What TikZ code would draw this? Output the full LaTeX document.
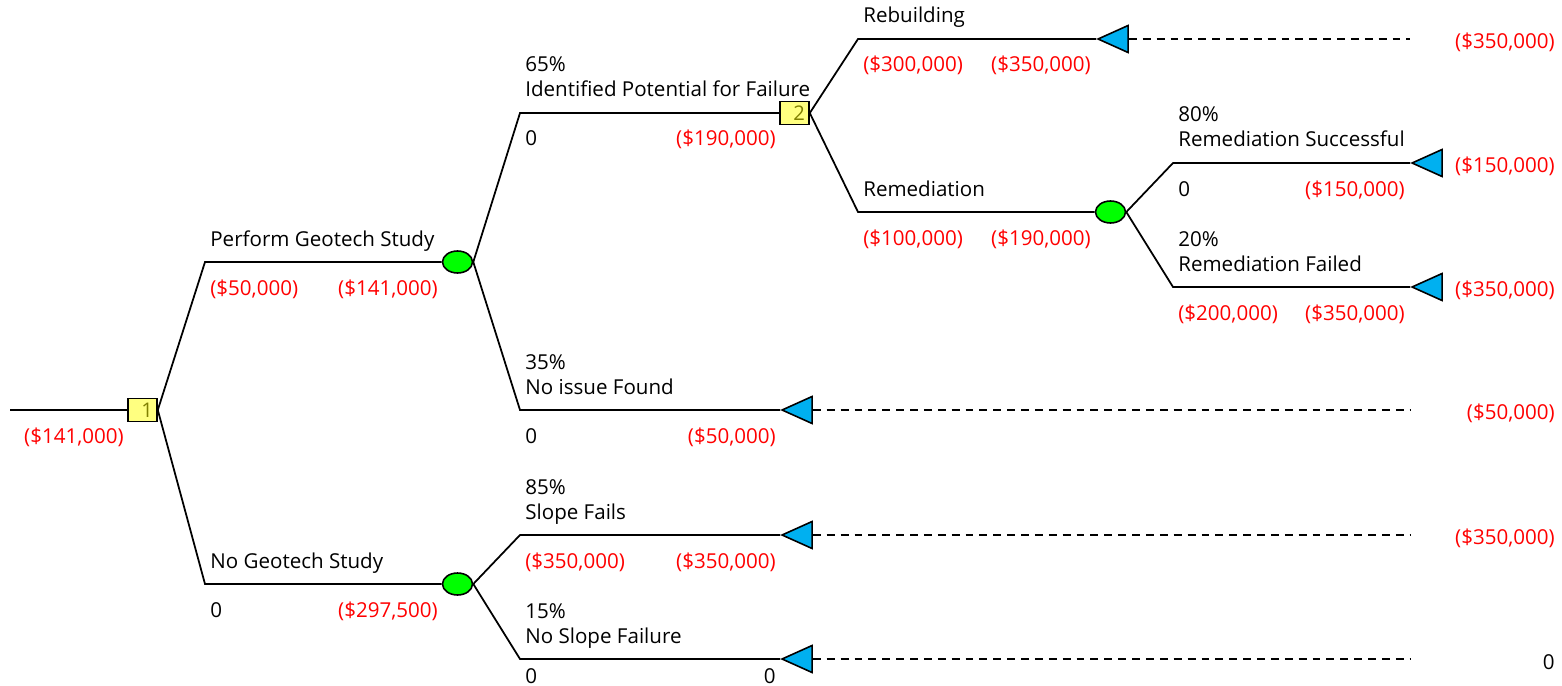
\documentclass[tikz,border=0pt]{standalone}
\usepackage{fontspec}
\setmainfont{Open Sans}
\usetikzlibrary{shapes.geometric}
\definecolor{decfill}{HTML}{FFFF80}
\definecolor{decnum}{HTML}{808000}
\definecolor{chancefill}{HTML}{00FF00}
\definecolor{termfill}{HTML}{00B0F0}
\definecolor{payred}{HTML}{FF0000}

\begin{document}
\begin{tikzpicture}[x=0.02cm, y=-0.02cm,
    branch/.style={line width=1pt},
    leader/.style={line width=0.9pt, dash pattern=on 4.5pt off 3.4pt},
    dec/.style={draw, line width=0.9pt, fill=decfill, minimum width=0.58cm, minimum height=0.46cm, inner sep=1pt, text width=0.42cm, align=right, font=\fontsize{11.5}{12}\selectfont, text=decnum},
    chance/.style={draw, ellipse, line width=0.9pt, fill=chancefill, minimum width=0.6cm, minimum height=0.44cm, inner sep=0pt},
    term/.style={draw, isosceles triangle, isosceles triangle stretches, shape border rotate=180, line width=0.9pt, fill=termfill, minimum width=0.54cm, minimum height=0.6cm, inner sep=0pt, anchor=apex},
    lab/.style={anchor=base west, inner sep=0pt, font=\fontsize{11.7}{13}\selectfont},
    labr/.style={lab, anchor=base east},
    val/.style={lab, text=payred},
    valr/.style={val, anchor=base east},
    pay/.style={lab, anchor=east, text=payred}
  ]
    \useasboundingbox (0,0) rectangle (1562,686);

    % decision and chance nodes
    \coordinate (root) at (10,410);
    \node[dec] (d1) at (142.5,410) {1};
    \node[chance] (c1) at (457.5,262) {};
    \node[chance] (c2) at (457.5,584) {};
    \node[dec] (d2) at (794.5,113) {2};
    \node[chance] (c3) at (1110.5,212) {};

    % end nodes
    \node[term] (t1) at (1096,39) {};
    \node[term] (t2) at (1410,163) {};
    \node[term] (t3) at (1410,287) {};
    \node[term] (t4) at (780,410) {};
    \node[term] (t5) at (780,535) {};
    \node[term] (t6) at (780,659) {};

    % branch corners
    \coordinate (ps) at (205,262);
    \coordinate (ns) at (205,584);
    \coordinate (ip) at (520,113);
    \coordinate (ni) at (520,410);
    \coordinate (sf) at (520,535);
    \coordinate (nf) at (520,659);
    \coordinate (rb) at (858,39);
    \coordinate (rm) at (858,212);
    \coordinate (rs) at (1173,163);
    \coordinate (rf) at (1173,287);

    \draw[branch] (root) -- (d1.west);
    \draw[branch] (d1.east) -- (ps) -- (c1.west);
    \draw[branch] (d1.east) -- (ns) -- (c2.west);
    \draw[branch] (c1.east) -- (ip) -- (d2.west);
    \draw[branch] (c1.east) -- (ni) -- (t4.apex);
    \draw[branch] (c2.east) -- (sf) -- (t5.apex);
    \draw[branch] (c2.east) -- (nf) -- (t6.apex);
    \draw[branch] (d2.east) -- (rb) -- (t1.apex);
    \draw[branch] (d2.east) -- (rm) -- (c3.west);
    \draw[branch] (c3.east) -- (rs) -- (t2.apex);
    \draw[branch] (c3.east) -- (rf) -- (t3.apex);

    % dashed leaders to the payoffs
    \foreach \t/\y in {t1/39, t4/410, t5/535, t6/659} {
      \coordinate (e\t) at (1410,\y);
      \draw[leader] (\t.east) -- (e\t);
    }

    % probabilities and branch names
    \foreach \n/\x/\y/\txt in {p3/525/72/65\%, p4/525/369/35\%, p5/525/494/85\%, p6/525/618/15\%, p9/1178/122/80\%, p10/1178/246/20\%,
        n1/210/246/Perform Geotech Study, n2/210/568/No Geotech Study, n3/525/97/Identified Potential for Failure,
        n4/525/394/No issue Found, n5/525/519/Slope Fails, n6/525/643/No Slope Failure, n7/863/23/Rebuilding,
        n8/863/196/Remediation, n9/1178/147/Remediation Successful, n10/1178/271/Remediation Failed} {
      \node[lab] (\n) at (\x,\y) {\txt};
    }

    % costs and rolled-back values
    \node[valr] (v0) at (124,443) {(\$141,000)};
    \node[val] (v1a) at (210,295) {(\$50,000)};
    \node[valr] (v1b) at (438,295) {(\$141,000)};
    \node[lab] (v2a) at (210,617) {0};
    \node[valr] (v2b) at (438,617) {(\$297,500)};
    \node[lab] (v3a) at (525,146) {0};
    \node[valr] (v3b) at (776,146) {(\$190,000)};
    \node[lab] (v4a) at (525,443) {0};
    \node[valr] (v4b) at (776,443) {(\$50,000)};
    \node[val] (v5a) at (525,568) {(\$350,000)};
    \node[valr] (v5b) at (776,568) {(\$350,000)};
    \node[lab] (v6a) at (525,683) {0};
    \node[labr] (v6b) at (776,683) {0};
    \node[val] (v7a) at (863,72) {(\$300,000)};
    \node[valr] (v7b) at (1091,72) {(\$350,000)};
    \node[val] (v8a) at (863,245) {(\$100,000)};
    \node[valr] (v8b) at (1091,245) {(\$190,000)};
    \node[lab] (v9a) at (1178,196) {0};
    \node[valr] (v9b) at (1405,196) {(\$150,000)};
    \node[val] (v10a) at (1178,320) {(\$200,000)};
    \node[valr] (v10b) at (1405,320) {(\$350,000)};

    % payoffs
    \node[pay] (y1) at (1555,42) {(\$350,000)};
    \node[pay] (y2) at (1555,166) {(\$150,000)};
    \node[pay] (y3) at (1555,290) {(\$350,000)};
    \node[pay] (y4) at (1555,413) {(\$50,000)};
    \node[pay] (y5) at (1555,538) {(\$350,000)};
    \node[pay, text=black] (y6) at (1555,662) {0};
\end{tikzpicture}
\end{document}
